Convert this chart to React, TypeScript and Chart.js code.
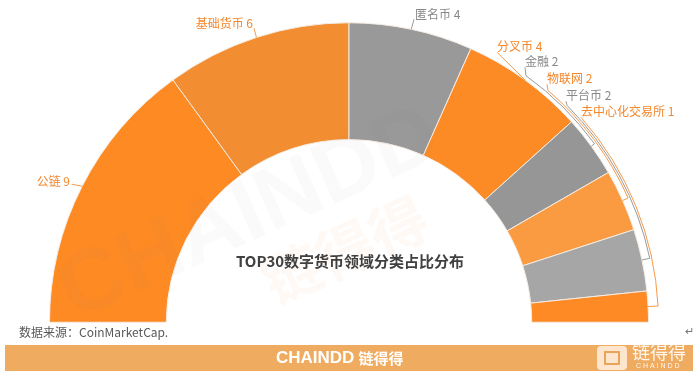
import React, { useEffect, useRef } from "react";
import { Chart, registerables } from "chart.js";

Chart.register(...registerables);

const categories = ["公链", "基础货币", "匿名币", "分叉币", "金融", "物联网", "平台币", "去中心化交易所"];
const counts = [9, 6, 4, 4, 2, 2, 2, 1];
const sliceColors = ["#FE8A24", "#F28D32", "#999999", "#FC8B26", "#969696", "#FA9A41", "#A6A6A6", "#FD8A25"];
const labelColors = ["#F5872C", "#F5872C", "#888888", "#F5872C", "#888888", "#F5872C", "#888888", "#F5872C"];

const titleText = "TOP30数字货币领域分类占比分布";
const sourceText = "数据来源：CoinMarketCap.";

const FONT = '"Noto Sans CJK SC", "Microsoft YaHei", sans-serif';

// label anchors relative to chart centre: [dx, dy, align, leaderStartDx, leaderStartDy, ringOffset]
const labelLayout: [number, number, CanvasTextAlign, number, number, number][] = [
  [-279, -141, "right", 2, 3, 0],
  [-96, -299, "right", 1, 5, 0],
  [66, -308, "left", -1, 5, 0],
  [148, -276, "left", 0, 6, 0],
  [176, -261, "left", 0, 6, 4],
  [198, -244, "left", 0, 6, 6],
  [217, -227, "left", 0, 6, 8],
  [232, -211, "left", 0, 6, 10],
];

const decorPlugin = {
  id: "decor",
  beforeDraw(chart: any) {
    const ctx = chart.ctx as CanvasRenderingContext2D;
    ctx.save();
    ctx.fillStyle = "#ffffff";
    ctx.fillRect(0, 0, chart.width, chart.height);
    ctx.restore();
  },
  afterDatasetsDraw(chart: any) {
    const ctx = chart.ctx as CanvasRenderingContext2D;
    // watermarks
    ctx.save();
    ctx.translate(250, 215);
    ctx.rotate(-0.42);
    ctx.font = `bold 88px Arial, sans-serif`;
    ctx.fillStyle = "rgba(110,110,110,0.035)";
    ctx.textAlign = "center";
    ctx.textBaseline = "middle";
    ctx.fillText("CHAINDD", 0, 0);
    ctx.restore();
    ctx.save();
    ctx.translate(345, 250);
    ctx.rotate(-0.42);
    ctx.font = `bold 58px ${FONT}`;
    ctx.fillStyle = "rgba(250,140,60,0.05)";
    ctx.textAlign = "center";
    ctx.textBaseline = "middle";
    ctx.fillText("链得得", 0, 0);
    ctx.restore();

    // title
    ctx.save();
    ctx.font = `bold 15px ${FONT}`;
    ctx.fillStyle = "#404040";
    ctx.textAlign = "center";
    ctx.textBaseline = "middle";
    const meta = chart.getDatasetMeta(0);
    const cx = meta.data[0].x;
    ctx.fillText(titleText, cx + 1, 261);
    ctx.restore();

    // source
    ctx.save();
    ctx.font = `12px ${FONT}`;
    ctx.fillStyle = "#595959";
    ctx.textAlign = "left";
    ctx.textBaseline = "middle";
    ctx.fillText(sourceText, 19, 332);
    ctx.fillStyle = "#777777";
    ctx.font = `11px ${FONT}`;
    ctx.fillText("↵", 685, 331);
    ctx.restore();

    // banner
    ctx.save();
    ctx.fillStyle = "#EFAB60";
    ctx.fillRect(5, 345, 688, 26);
    ctx.fillStyle = "#ffffff";
    ctx.textBaseline = "middle";
    ctx.textAlign = "left";
    ctx.font = `bold 17px Arial, sans-serif`;
    const w1 = ctx.measureText("CHAINDD").width;
    const x1 = 276;
    ctx.fillText("CHAINDD", x1, 358);
    ctx.font = `bold 15px ${FONT}`;
    ctx.fillText("链得得", x1 + w1 + 4, 358);
    // logo
    ctx.fillStyle = "rgba(255,240,225,0.85)";
    const lx = 597, ly = 346, lw = 30, lh = 24, r = 4;
    ctx.beginPath();
    ctx.moveTo(lx + r, ly);
    ctx.lineTo(lx + lw - r, ly);
    ctx.quadraticCurveTo(lx + lw, ly, lx + lw, ly + r);
    ctx.lineTo(lx + lw, ly + lh - r);
    ctx.quadraticCurveTo(lx + lw, ly + lh, lx + lw - r, ly + lh);
    ctx.lineTo(lx + r, ly + lh);
    ctx.quadraticCurveTo(lx, ly + lh, lx, ly + lh - r);
    ctx.lineTo(lx, ly + r);
    ctx.quadraticCurveTo(lx, ly, lx + r, ly);
    ctx.fill();
    ctx.strokeStyle = "#E9A45A";
    ctx.lineWidth = 2;
    ctx.strokeRect(lx + 8, ly + 6, 14, 12);
    ctx.fillStyle = "rgba(255,255,255,0.9)";
    ctx.font = `18px ${FONT}`;
    ctx.fillText("链得得", 632, 352);
    ctx.font = `7px Arial, sans-serif`;
    ctx.fillText("C H A I N D D", 636, 366);
    ctx.restore();
  },
};

const labelPlugin = {
  id: "sliceLabels",
  afterDatasetsDraw(chart: any) {
    const ctx = chart.ctx as CanvasRenderingContext2D;
    const meta = chart.getDatasetMeta(0);
    meta.data.forEach((arc: any, i: number) => {
      const p = arc.getProps(["x", "y", "startAngle", "endAngle", "outerRadius"], true);
      const mid = (p.startAngle + p.endAngle) / 2;
      const [dx, dy, align, sdx, sdy, ring] = labelLayout[i];
      const ax = p.x + dx;
      const ay = p.y + dy;
      ctx.save();
      ctx.font = `12px ${FONT}`;
      ctx.fillStyle = labelColors[i];
      ctx.textAlign = align;
      ctx.textBaseline = "middle";
      ctx.fillText(`${categories[i]} ${counts[i]}`, ax, ay);

      const ex = p.x + Math.cos(mid) * p.outerRadius;
      const ey = p.y + Math.sin(mid) * p.outerRadius;
      const sx = ax + sdx;
      const sy = ay + sdy;
      ctx.strokeStyle = labelColors[i] === "#888888" ? "#9A9A9A" : "#F79A4A";
      ctx.lineWidth = 1;
      ctx.beginPath();
      if (ring === 0) {
        ctx.moveTo(sx, sy);
        ctx.lineTo(ex, ey);
      } else {
        const rr = p.outerRadius + ring;
        const c = Math.max(-1, Math.min(1, (sx + 1 - p.x) / rr));
        const a0 = -Math.acos(c);
        ctx.moveTo(sx, sy);
        ctx.lineTo(p.x + rr * Math.cos(a0), p.y + rr * Math.sin(a0));
        ctx.arc(p.x, p.y, rr, a0, mid, false);
        ctx.lineTo(ex, ey);
      }
      ctx.stroke();
      ctx.restore();
    });
  },
};

export default function App() {
  const ref = useRef<HTMLCanvasElement | null>(null);
  useEffect(() => {
    if (!ref.current) return;
    const chart = new Chart(ref.current, {
      type: "doughnut",
      data: {
        labels: categories,
        datasets: [
          {
            data: counts,
            backgroundColor: sliceColors,
            borderColor: "#F6ECE2",
            borderWidth: 1,
            hoverOffset: 0,
          } as any,
        ],
      },
      options: {
        responsive: false,
        animation: false,
        rotation: -90,
        circumference: 180,
        cutout: "61%",
        events: [],
        layout: { padding: { left: 49, right: 49, top: 22, bottom: 54 } },
        plugins: { legend: { display: false }, tooltip: { enabled: false } },
      } as any,
      plugins: [decorPlugin, labelPlugin],
    });
    return () => chart.destroy();
  }, []);
  return (
    <div style={{ position: "fixed", left: 0, top: 0, width: 698, height: 377 }}>
      <canvas ref={ref} width={698} height={377} style={{ display: "block" }} />
    </div>
  );
}
